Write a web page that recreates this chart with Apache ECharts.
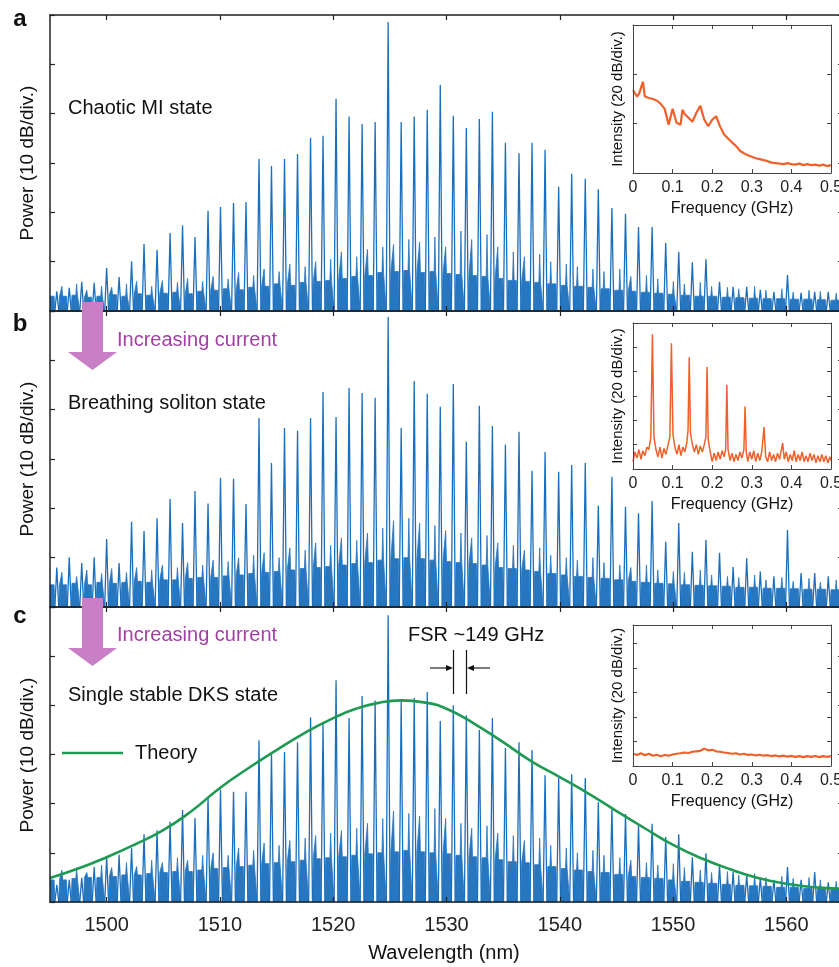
<!DOCTYPE html>
<html>
<head>
<meta charset="utf-8">
<title>Comb spectra</title>
<script src="https://cdn.jsdelivr.net/npm/echarts@6/dist/echarts.min.js"></script>
<style>
html, body { margin: 0; padding: 0; background: #fff; }
#chart { width: 839px; height: 967px; }
</style>
</head>
<body>
<div id="chart"></div>
<script>
// comb line wavelengths (nm)
var combWl = [1495.6, 1496.7, 1497.8, 1498.9, 1500.0, 1501.1, 1502.2, 1503.3, 1504.45, 1505.6,
    1506.7, 1507.8, 1508.95, 1510.05, 1511.2, 1512.3, 1513.45, 1514.55, 1515.7, 1516.85,
    1518.0, 1519.1, 1520.25, 1521.4, 1522.55, 1523.7, 1524.85, 1526.0, 1527.15, 1528.3,
    1529.45, 1530.6, 1531.75, 1532.9, 1534.05, 1535.2, 1536.4, 1537.55, 1538.7, 1539.9,
    1541.05, 1542.25, 1543.4, 1544.6, 1545.8, 1546.95, 1548.15, 1549.35, 1550.5, 1551.7,
    1552.9, 1554.1, 1555.3, 1556.5, 1557.7, 1558.9, 1560.1, 1561.3, 1562.5, 1563.7, 1564.9];

// comb line peak heights, in divisions (10 dB/div.) above the bottom axis
var peakA = [0.4, 0.47, 0.59, 0.57, 0.87, 0.69, 1.01, 1.36, 1.24, 1.58, 1.74, 1.5, 2.03, 2.11, 2.19, 2.21,
    3.08, 2.94, 3.08, 3.18, 3.51, 3.55, 4.3, 3.94, 3.79, 3.83, 5.86, 3.83, 3.94, 4.08, 4.58, 3.96, 3.71,
    3.89, 4.04, 3.41, 3.2, 3.41, 3.27, 2.52, 2.78, 2.68, 2.47, 2.09, 1.97, 1.7, 1.7, 1.38, 1.2, 0.99,
    1.05, 0.59, 0.49, 0.49, 0.43, 0.39, 0.73, 0.37, 0.39, 0.39, 0.35];
var peakB = [0.8, 1.01, 0.89, 1.01, 1.38, 0.89, 1.73, 1.54, 1.8, 2.19, 1.7, 2.35, 2.1, 2.62, 2.6, 2.09,
    3.83, 2.92, 3.63, 3.57, 3.83, 4.36, 3.85, 4.44, 4.34, 4.24, 5.88, 3.63, 4.58, 4.32, 4.06, 4.52, 3.35,
    4.08, 3.67, 3.29, 3.55, 2.76, 3.14, 2.74, 2.88, 2.92, 2.05, 2.64, 2.03, 1.9, 2.15, 1.32, 1.7, 1.12,
    1.36, 1.1, 0.81, 0.99, 0.72, 0.62, 1.56, 0.69, 0.69, 0.62, 0.55];
var peakC = [0.35, 0.45, 0.49, 0.71, 0.91, 0.96, 1.1, 1.38, 1.46, 1.63, 1.87, 1.71, 2.13, 2.29, 2.24, 2.24,
    3.29, 3.05, 3.05, 3.25, 3.76, 3.63, 4.51, 3.74, 4.19, 4.1, 5.83, 4.1, 4.15, 4.27, 3.68, 4.0, 3.8,
    3.5, 3.74, 3.13, 3.25, 3.09, 2.58, 2.52, 2.6, 2.52, 2.03, 1.93, 1.79, 1.57, 1.59, 1.32, 1.38, 0.91,
    0.99, 0.75, 0.61, 0.55, 0.49, 0.45, 0.71, 0.45, 0.61, 0.4, 0.38];

// noise between neighbouring comb lines: dense floor level and the spike in the gap
var floorA = [0.3, 0.32, 0.28, 0.3, 0.33, 0.3, 0.35, 0.32, 0.36, 0.38, 0.35, 0.4, 0.42, 0.45, 0.43, 0.48,
    0.5, 0.55, 0.52, 0.58, 0.6, 0.62, 0.66, 0.7, 0.72, 0.78, 0.8, 0.82, 0.78, 0.8, 0.76, 0.74, 0.72, 0.7,
    0.66, 0.62, 0.6, 0.58, 0.55, 0.52, 0.5, 0.48, 0.45, 0.42, 0.4, 0.38, 0.36, 0.34, 0.32, 0.3, 0.3, 0.28,
    0.27, 0.26, 0.25, 0.25, 0.24, 0.24, 0.23, 0.22];
var spikeA = [0.5, 0.55, 0.42, 0.5, 0.48, 0.55, 0.6, 0.5, 0.62, 0.58, 0.66, 0.6, 0.7, 0.65, 0.78, 0.72,
    0.85, 0.8, 0.95, 0.9, 1.0, 1.05, 1.2, 1.1, 1.25, 1.3, 1.35, 1.45, 1.4, 1.5, 1.3, 1.62, 1.45, 1.55,
    1.3, 1.2, 1.1, 1.15, 1.0, 0.95, 0.9, 0.85, 0.8, 0.85, 0.7, 0.72, 0.65, 0.6, 0.55, 0.58, 0.5, 0.48,
    0.45, 0.5, 0.42, 0.45, 0.38, 0.42, 0.4, 0.36];
var floorB = [0.45, 0.48, 0.45, 0.5, 0.48, 0.5, 0.52, 0.5, 0.55, 0.55, 0.58, 0.6, 0.6, 0.63, 0.65, 0.68,
    0.7, 0.72, 0.75, 0.78, 0.8, 0.82, 0.85, 0.88, 0.9, 0.95, 0.98, 1.0, 0.98, 0.95, 0.92, 0.9, 0.88, 0.85,
    0.8, 0.78, 0.75, 0.72, 0.68, 0.65, 0.62, 0.6, 0.58, 0.55, 0.52, 0.5, 0.48, 0.47, 0.45, 0.44, 0.43,
    0.42, 0.4, 0.4, 0.38, 0.38, 0.37, 0.36, 0.36, 0.35];
var spikeB = [0.7, 0.62, 0.75, 0.68, 0.78, 0.7, 0.8, 0.75, 0.85, 0.8, 0.9, 0.85, 0.95, 0.92, 1.0, 1.05,
    1.1, 1.0, 1.2, 1.15, 1.3, 1.25, 1.4, 1.35, 1.5, 1.6, 1.75, 1.8, 1.7, 1.65, 1.55, 1.5, 1.4, 1.45, 1.3,
    1.25, 1.15, 1.2, 1.05, 1.0, 0.95, 1.0, 0.9, 0.85, 0.8, 0.85, 0.75, 0.72, 0.7, 0.75, 0.65, 0.62, 0.6,
    0.65, 0.55, 0.6, 0.52, 0.58, 0.5, 0.55];
var floorC = [0.45, 0.48, 0.5, 0.5, 0.52, 0.55, 0.55, 0.58, 0.6, 0.62, 0.62, 0.65, 0.68, 0.7, 0.72, 0.75,
    0.78, 0.8, 0.82, 0.85, 0.88, 0.9, 0.92, 0.95, 0.98, 1.0, 1.02, 1.05, 1.02, 1.0, 0.98, 0.95, 0.92, 0.9,
    0.86, 0.82, 0.8, 0.76, 0.72, 0.68, 0.65, 0.62, 0.6, 0.56, 0.52, 0.5, 0.48, 0.45, 0.42, 0.4, 0.38,
    0.36, 0.34, 0.33, 0.32, 0.3, 0.3, 0.28, 0.28, 0.27];
var spikeC = [0.65, 0.7, 0.6, 0.75, 0.7, 0.8, 0.72, 0.85, 0.8, 0.9, 0.85, 0.95, 1.0, 0.95, 1.1, 1.05,
    1.2, 1.15, 1.25, 1.3, 1.35, 1.4, 1.45, 1.5, 1.6, 1.7, 1.85, 1.8, 1.75, 1.9, 1.7, 1.6, 1.5, 1.55, 1.4,
    1.35, 1.25, 1.3, 1.15, 1.1, 1.0, 1.05, 0.95, 0.9, 0.85, 0.8, 0.75, 0.78, 0.7, 0.65, 0.6, 0.62, 0.55,
    0.58, 0.5, 0.52, 0.48, 0.5, 0.45, 0.42];

// theory envelope (panel c)
var theoryWl = [1495, 1497.5, 1500, 1502.5, 1505, 1507.5, 1510, 1512.5, 1515, 1517.5, 1520, 1522, 1524,
    1526, 1528, 1530, 1532.5, 1535, 1537.5, 1540, 1542.5, 1545, 1547.5, 1550, 1552.5, 1555, 1557.5,
    1560, 1562.5, 1565];
var theoryVal = [0.49, 0.68, 0.91, 1.17, 1.46, 1.85, 2.32, 2.72, 3.09, 3.44, 3.74, 3.93, 4.05, 4.1, 4.06,
    3.93, 3.62, 3.25, 2.86, 2.54, 2.21, 1.85, 1.5, 1.16, 0.89, 0.67, 0.49, 0.37, 0.3, 0.27];

// insets: RF intensity noise (20 dB/div.)
var insetAFreq = [0, 0.005, 0.01, 0.015, 0.02, 0.025, 0.03, 0.04, 0.05, 0.06, 0.07, 0.08, 0.09, 0.1, 0.11,
    0.12, 0.125, 0.13, 0.14, 0.15, 0.16, 0.17, 0.18, 0.19, 0.2, 0.21, 0.22, 0.23, 0.24, 0.25, 0.26, 0.27,
    0.28, 0.29, 0.3, 0.31, 0.32, 0.33, 0.34, 0.35, 0.36, 0.37, 0.38, 0.39, 0.4, 0.41, 0.42, 0.43, 0.44,
    0.45, 0.46, 0.47, 0.48, 0.49, 0.5];
var insetAVal = [1.68, 1.62, 1.55, 1.6, 1.56, 1.85, 1.55, 1.52, 1.5, 1.47, 1.4, 1.3, 0.98, 1.3, 1.02,
    0.98, 1.28, 1.2, 1.12, 1.04, 1.22, 1.36, 1.08, 0.95, 1.08, 1.15, 0.94, 0.78, 0.7, 0.62, 0.55, 0.45,
    0.4, 0.36, 0.33, 0.3, 0.28, 0.26, 0.24, 0.21, 0.2, 0.19, 0.18, 0.2, 0.18, 0.17, 0.19, 0.16, 0.18,
    0.16, 0.17, 0.15, 0.17, 0.14, 0.16];
var insetBFreq = [0, 0.005, 0.01, 0.015, 0.02, 0.025, 0.03, 0.035, 0.04, 0.045, 0.049, 0.053, 0.058, 0.063,
    0.068, 0.073, 0.078, 0.083, 0.088, 0.093, 0.097, 0.101, 0.106, 0.111, 0.116, 0.121, 0.126, 0.131,
    0.136, 0.139, 0.142, 0.145, 0.15, 0.155, 0.16, 0.165, 0.17, 0.175, 0.18, 0.184, 0.187, 0.19, 0.195,
    0.2, 0.205, 0.21, 0.215, 0.22, 0.225, 0.23, 0.234, 0.237, 0.24, 0.245, 0.25, 0.255, 0.26, 0.265,
    0.27, 0.275, 0.28, 0.283, 0.286, 0.29, 0.295, 0.3, 0.305, 0.31, 0.315, 0.32, 0.325, 0.331, 0.335,
    0.34, 0.345, 0.35, 0.355, 0.36, 0.365, 0.37, 0.378, 0.382, 0.387, 0.392, 0.397, 0.402, 0.407, 0.412,
    0.417, 0.422, 0.427, 0.432, 0.437, 0.442, 0.447, 0.452, 0.457, 0.462, 0.467, 0.472, 0.477, 0.482,
    0.487, 0.492, 0.497, 0.5];
var insetBVal = [0.3, 0.7, 0.45, 0.8, 0.4, 0.75, 0.55, 0.9, 0.8, 1.3, 5.54, 1.3, 0.8, 0.5, 0.9, 0.45,
    0.85, 0.6, 0.95, 1.3, 5.17, 1.4, 0.9, 0.6, 1.0, 0.55, 0.9, 0.7, 1.1, 1.6, 4.59, 1.5, 1.0, 0.7, 1.0,
    0.6, 0.95, 0.7, 1.0, 1.3, 4.19, 1.2, 0.7, 0.3, 0.65, 0.35, 0.7, 0.4, 0.75, 0.5, 0.8, 3.46, 0.8, 0.35,
    0.65, 0.3, 0.6, 0.35, 0.7, 0.45, 0.8, 2.57, 0.7, 0.3, 0.7, 0.4, 0.75, 0.3, 0.65, 0.35, 0.7, 1.72,
    0.5, 0.3, 0.7, 0.35, 0.6, 0.3, 0.65, 0.4, 1.07, 0.4, 0.7, 0.3, 0.6, 0.35, 0.75, 0.3, 0.6, 0.35, 0.7,
    0.3, 0.55, 0.3, 0.65, 0.35, 0.6, 0.25, 0.55, 0.3, 0.6, 0.3, 0.55, 0.25, 0.5, 0.35];
var insetCFreq = [0, 0.01, 0.02, 0.03, 0.04, 0.05, 0.06, 0.07, 0.08, 0.09, 0.1, 0.11, 0.12, 0.13, 0.14,
    0.15, 0.16, 0.17, 0.18, 0.19, 0.2, 0.21, 0.22, 0.23, 0.24, 0.25, 0.26, 0.27, 0.28, 0.29, 0.3, 0.31,
    0.32, 0.33, 0.34, 0.35, 0.36, 0.37, 0.38, 0.39, 0.4, 0.41, 0.42, 0.43, 0.44, 0.45, 0.46, 0.47, 0.48,
    0.49, 0.5];
var insetCVal = [0.5, 0.45, 0.52, 0.44, 0.5, 0.42, 0.46, 0.4, 0.45, 0.42, 0.47, 0.5, 0.52, 0.55, 0.53,
    0.58, 0.6, 0.62, 0.7, 0.64, 0.66, 0.6, 0.58, 0.55, 0.53, 0.5, 0.52, 0.47, 0.5, 0.45, 0.47, 0.43, 0.46,
    0.42, 0.44, 0.4, 0.43, 0.39, 0.42, 0.38, 0.41, 0.37, 0.4, 0.36, 0.4, 0.37, 0.41, 0.36, 0.4, 0.37, 0.4];

var xTicks = [1500, 1510, 1520, 1530, 1540, 1550, 1560];

var FONT = "Liberation Sans, Arial, sans-serif";
var BLUE = "#1a6fbd";
var NOISE = "#2676c0";
var ORANGE = "#f0602a";

function zip(xs, ys) {
    return xs.map(function (x, i) { return [x, ys[i]]; });
}

// each comb line: thin spike standing on the axis
function combTrace(h) {
    var d = [];
    combWl.forEach(function (w, i) {
        d.push([w - 0.17, 0], [w, h[i]], [w + 0.17, 0]);
    });
    return d;
}

// noise filling the gaps between the comb lines
function noiseTrace(fl, sp) {
    var d = [[1495, fl[0]], [combWl[0] - 0.24, fl[0]], [combWl[0] - 0.17, 0]];
    for (var i = 0; i < combWl.length - 1; i++) {
        var a = combWl[i], b = combWl[i + 1];
        var m = (a + b) / 2 + (i % 2 ? 0.1 : -0.1);
        d.push([a + 0.17, 0], [a + 0.24, fl[i]], [m - 0.07, fl[i]], [m, sp[i]],
            [m + 0.07, fl[i]], [b - 0.24, fl[i]], [b - 0.17, 0]);
    }
    var last = combWl[combWl.length - 1];
    d.push([last + 0.17, 0], [1565, fl[fl.length - 1]]);
    return d;
}

var mainTops = [15, 311, 607];
var mainHeights = [296, 296, 295];
var insetTops = [25, 323, 625];
var insetHeights = [148, 146, 141];
var insetMax = [3, 6, 5.75];

var grids = [], xAxes = [], yAxes = [];
mainTops.forEach(function (t, p) {
    grids.push({ left: 50, top: t, width: 793, height: mainHeights[p], outerBoundsMode: "none" });
    ["bottom", "top"].forEach(function (pos) {
        var lbl = p === 2 && pos === "bottom";
        xAxes.push({
            type: "value", gridIndex: p, position: pos, min: 1495, max: 1565, z: 10,
            axisLine: { show: true, onZero: false, lineStyle: { color: "#222", width: 1.5 } },
            axisTick: { show: true, inside: true, length: 5, customValues: xTicks, lineStyle: { color: "#222", width: 1.2 } },
            axisLabel: {
                show: lbl, customValues: xTicks, margin: 13, fontSize: 20, color: "#222", fontFamily: FONT,
                formatter: function (v) { return String(v); }
            },
            splitLine: { show: false }
        });
    });
    ["left", "right"].forEach(function (pos) {
        yAxes.push({
            type: "value", gridIndex: p, position: pos, min: 0, max: 6, interval: 1, z: 10,
            axisLine: { show: true, onZero: false, lineStyle: { color: "#222", width: 1.5 } },
            axisTick: { show: true, inside: true, length: 5, lineStyle: { color: "#222", width: 1.2 } },
            axisLabel: { show: false },
            splitLine: { show: false }
        });
    });
});
insetTops.forEach(function (t, q) {
    var g = 3 + q;
    grids.push({ left: 633, top: t, width: 198, height: insetHeights[q], outerBoundsMode: "none" });
    ["bottom", "top"].forEach(function (pos) {
        xAxes.push({
            type: "value", gridIndex: g, position: pos, min: 0, max: 0.5, interval: 0.1, z: 10,
            axisLine: { show: true, onZero: false, lineStyle: { color: "#444", width: 1 } },
            axisTick: { show: true, inside: true, length: 4, lineStyle: { color: "#444" } },
            axisLabel: { show: pos === "bottom", margin: 7, fontSize: 16, color: "#222", fontFamily: FONT },
            splitLine: { show: false }
        });
    });
    ["left", "right"].forEach(function (pos) {
        yAxes.push({
            type: "value", gridIndex: g, position: pos, min: 0, max: insetMax[q], interval: 1, z: 10,
            axisLine: { show: true, onZero: false, lineStyle: { color: "#444", width: 1 } },
            axisTick: { show: true, inside: true, length: 4, lineStyle: { color: "#444" } },
            axisLabel: { show: false },
            splitLine: { show: false }
        });
    });
});

var series = [];
var peaks = [peakA, peakB, peakC];
var floors = [floorA, floorB, floorC];
var spikes = [spikeA, spikeB, spikeC];
for (var p = 0; p < 3; p++) {
    series.push({
        type: "line", xAxisIndex: 2 * p, yAxisIndex: 2 * p, data: noiseTrace(floors[p], spikes[p]),
        symbol: "none", z: 2, lineStyle: { color: NOISE, width: 0.8 },
        areaStyle: { color: NOISE, opacity: 1 }
    });
    series.push({
        type: "line", xAxisIndex: 2 * p, yAxisIndex: 2 * p, data: combTrace(peaks[p]),
        symbol: "none", z: 3, lineStyle: { color: BLUE, width: 1.3 }
    });
}
series.push({
    type: "line", xAxisIndex: 4, yAxisIndex: 4, data: zip(theoryWl, theoryVal), smooth: true,
    symbol: "none", z: 4, lineStyle: { color: "#1f9a52", width: 2.6 }
});
var insetWidths = [2.2, 1.5, 2.2];
[[insetAFreq, insetAVal], [insetBFreq, insetBVal], [insetCFreq, insetCVal]].forEach(function (s, q) {
    series.push({
        type: "line", xAxisIndex: 6 + 2 * q, yAxisIndex: 6 + 2 * q, data: zip(s[0], s[1]),
        symbol: "none", z: 5, lineStyle: { color: ORANGE, width: insetWidths[q] }
    });
});

function txt(x, y, s, size, extra) {
    var el = {
        type: "text", x: x, y: y, z: 100,
        style: { text: s, fontSize: size, fontFamily: FONT, fill: "#111", align: "left", verticalAlign: "middle" }
    };
    if (extra) {
        for (var k in extra) {
            if (k === "rotation") el.rotation = extra[k]; else el.style[k] = extra[k];
        }
    }
    return el;
}
function arrowDown(top) {
    return {
        type: "polygon", z: 100,
        shape: { points: [[82, top], [103, top], [103, top + 50], [117, top + 50], [92.5, top + 68], [68, top + 50], [82, top + 50]] },
        style: { fill: "#c97fc6" }
    };
}

var graphics = [
    txt(20, 19, "a", 24, { fontWeight: "bold", align: "center" }),
    txt(20, 324, "b", 24, { fontWeight: "bold", align: "center" }),
    txt(20, 616, "c", 24, { fontWeight: "bold", align: "center" }),
    txt(28, 163, "Power (10 dB/div.)", 19, { align: "center", rotation: Math.PI / 2 }),
    txt(28, 459, "Power (10 dB/div.)", 19, { align: "center", rotation: Math.PI / 2 }),
    txt(28, 755, "Power (10 dB/div.)", 19, { align: "center", rotation: Math.PI / 2 }),
    txt(68, 108, "Chaotic MI state", 20),
    txt(68, 403, "Breathing soliton state", 20),
    txt(68, 695, "Single stable DKS state", 20),
    arrowDown(302),
    arrowDown(598),
    txt(117, 340, "Increasing current", 20, { fill: "#a43ea7" }),
    txt(117, 635, "Increasing current", 20, { fill: "#a43ea7" }),
    { type: "line", z: 100, shape: { x1: 62, y1: 753, x2: 123, y2: 753 }, style: { stroke: "#1f9a52", lineWidth: 2.6 } },
    txt(135, 753, "Theory", 20),
    txt(408, 635, "FSR ~149 GHz", 20),
    { type: "line", z: 100, shape: { x1: 453.5, y1: 650, x2: 453.5, y2: 694 }, style: { stroke: "#111", lineWidth: 1.2 } },
    { type: "line", z: 100, shape: { x1: 466.5, y1: 650, x2: 466.5, y2: 694 }, style: { stroke: "#111", lineWidth: 1.2 } },
    { type: "line", z: 100, shape: { x1: 430, y1: 668, x2: 447, y2: 668 }, style: { stroke: "#111", lineWidth: 1.1 } },
    { type: "polygon", z: 100, shape: { points: [[453, 668], [446, 665], [446, 671]] }, style: { fill: "#111" } },
    { type: "line", z: 100, shape: { x1: 473, y1: 668, x2: 490, y2: 668 }, style: { stroke: "#111", lineWidth: 1.1 } },
    { type: "polygon", z: 100, shape: { points: [[467, 668], [474, 665], [474, 671]] }, style: { fill: "#111" } },
    txt(444, 953, "Wavelength (nm)", 20, { align: "center" })
];
insetTops.forEach(function (t, q) {
    var h = insetHeights[q];
    graphics.push(txt(618, t + h / 2, "Intensity (20 dB/div.)", 15, { align: "center", rotation: Math.PI / 2 }));
    graphics.push(txt(732, t + h + 36, "Frequency (GHz)", 16, { align: "center" }));
});

var chart = echarts.init(document.getElementById("chart"), null, { renderer: "canvas" });
chart.setOption({
    backgroundColor: "#fff",
    animation: false,
    grid: grids,
    xAxis: xAxes,
    yAxis: yAxes,
    series: series,
    graphic: { elements: graphics }
});
</script>
</body>
</html>
